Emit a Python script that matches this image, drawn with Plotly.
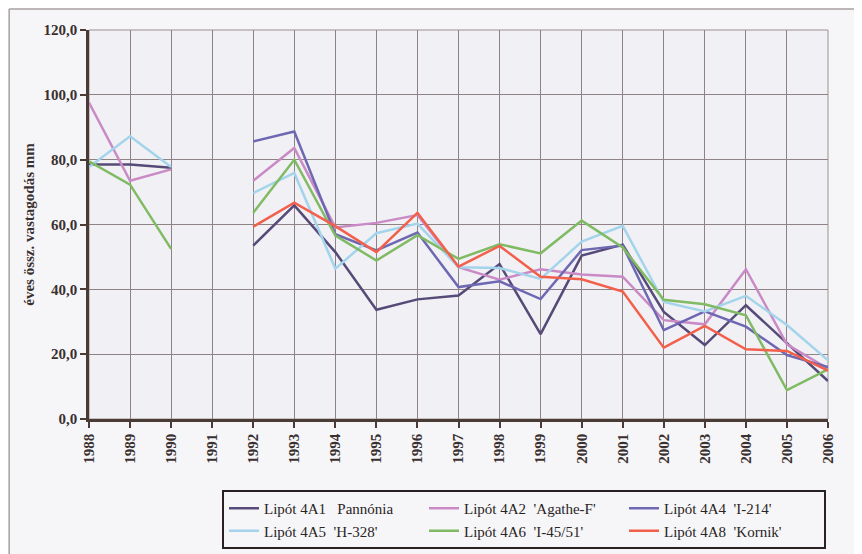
import plotly.graph_objects as go

years = list(range(1988, 2007))

# values per year 1988..2006 (None = no data)
s_4a1 = [78.5, 78.5, 77.5, None, 53.5, 65.9, 51.5, 33.7, 36.9, 38.1, 47.8, 26.2, 50.4, 53.8, 33.0, 22.8, 35.1, 23.3, 11.7]
s_4a2 = [97.6, 73.5, 77.0, None, 73.5, 83.6, 59.1, 60.5, 62.9, 46.8, 43.0, 46.2, 44.6, 43.9, 30.5, 29.2, 46.2, 23.0, 15.5]
s_4a4 = [None, None, None, None, 85.6, 88.7, 57.0, 52.0, 57.5, 40.7, 42.5, 37.0, 52.1, 53.5, 27.4, 33.2, 28.5, 19.7, 16.0]
s_4a5 = [77.7, 87.2, 77.7, None, 69.7, 75.9, 46.4, 57.3, 60.3, 46.8, 46.6, 43.2, 54.7, 59.6, 36.1, 33.2, 38.0, 29.0, 18.1]
s_4a6 = [79.5, 72.3, 52.5, None, 63.6, 80.0, 56.6, 48.9, 56.7, 49.4, 53.9, 51.1, 61.2, 52.9, 36.8, 35.4, 32.0, 8.9, 15.3]
s_4a8 = [None, None, None, None, 59.3, 66.7, 59.5, 51.5, 63.6, 47.0, 53.4, 43.9, 43.1, 39.3, 22.0, 28.7, 21.5, 21.0, 14.9]

names = [
    "Lipót 4A1\u00a0\u00a0\u00a0Pannónia",
    "Lipót 4A2\u00a0\u00a0'Agathe-F'",
    "Lipót 4A4\u00a0\u00a0'I-214'",
    "Lipót 4A5\u00a0\u00a0'H-328'",
    "Lipót 4A6\u00a0\u00a0'I-45/51'",
    "Lipót 4A8\u00a0\u00a0'Kornik'",
]
series = [s_4a1, s_4a2, s_4a4, s_4a5, s_4a6, s_4a8]
colors = ["#564a78", "#c98ac6", "#6e68b2", "#a3d4ec", "#80bb64", "#f2604c"]

fig = go.Figure()
for nm, s, c in zip(names, series, colors):
    fig.add_trace(go.Scatter(x=years, y=s, mode="lines", name=nm,
                             line=dict(color=c, width=2.5), connectgaps=False))

axis_col = "#4a3c34"
serif = "Liberation Serif"

fig.update_layout(
    width=854, height=546,
    margin=dict(l=81, r=34, t=22, b=135, autoexpand=False),
    paper_bgcolor="#f6f6f8",
    plot_bgcolor="#f1f1f5",
    separators=", ",
    showlegend=True,
    legend=dict(
        orientation="h",
        x=0.18, xanchor="left",
        y=-0.1825, yanchor="top",
        bordercolor="#2a2222", borderwidth=2,
        bgcolor="rgba(0,0,0,0)",
        font=dict(family=serif, size=15, color="#2a2424"),
        itemwidth=30,
        entrywidth=155, entrywidthmode="pixels",
        tracegroupgap=0,
    ),
    shapes=[
        dict(type="rect", xref="paper", yref="paper", x0=0, x1=1, y0=0, y1=1,
             line=dict(color="#9a9090", width=1), layer="below"),
        dict(type="line", xref="paper", yref="paper", x0=-0.108, x1=-0.108, y0=-0.36, y1=1.054,
             line=dict(color="#a8a0a0", width=1.5)),
        dict(type="line", xref="paper", yref="paper", x0=-0.108, x1=1.05, y0=1.054, y1=1.054,
             line=dict(color="#a8a0a0", width=1.5)),
    ],
)

fig.update_xaxes(
    range=[1988, 2006], tickmode="array", tickvals=years, ticktext=[str(y) for y in years],
    tickangle=-90, tickfont=dict(family=serif, size=15, color="#3a3030", weight="bold"),
    showgrid=True, gridcolor="#8e8284", gridwidth=1,
    showline=True, linecolor=axis_col, linewidth=2.5,
    ticks="outside", ticklen=6, tickwidth=2, tickcolor=axis_col,
    zeroline=False,
)
fig.update_yaxes(
    range=[0, 120], dtick=20, tickformat=".1f",
    tickfont=dict(family=serif, size=15, color="#3a3030", weight="bold"),
    showgrid=True, gridcolor="#8e8284", gridwidth=1,
    showline=True, linecolor=axis_col, linewidth=2.5,
    ticks="outside", ticklen=6, tickwidth=2, tickcolor=axis_col,
    zeroline=False,
    title=dict(text="éves össz. vastagodás mm",
               font=dict(family=serif, size=15, color="#3a3030", weight="bold"),
               standoff=6),
)

fig.write_html("out.html")
